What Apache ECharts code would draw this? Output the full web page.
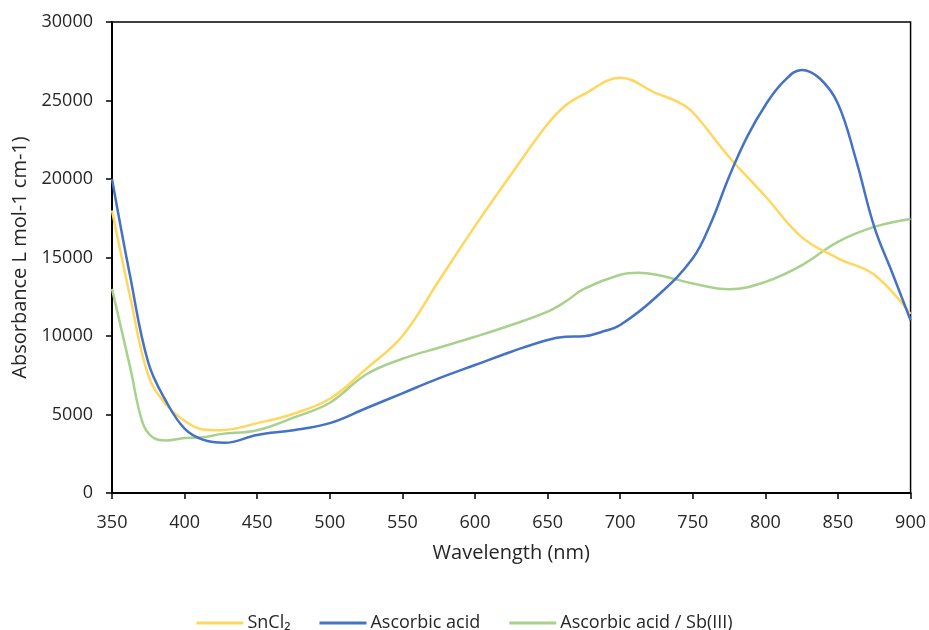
<!DOCTYPE html>
<html>
<head>
<meta charset="utf-8">
<script src="https://cdn.jsdelivr.net/npm/echarts@6/dist/echarts.min.js"></script>
<style>
  html, body { margin: 0; padding: 0; background: #fff; }
  #chart { width: 929px; height: 630px; }
</style>
</head>
<body>
<div id="chart"></div>
<script>
// Absorption spectra (wavelength in nm, absorbance in L mol-1 cm-1)
const snCl2Wavelength = [350, 362.5, 375, 387.5, 400, 412.5, 425, 450, 475, 500, 525, 550, 575, 600, 625, 650, 662.5, 675, 700, 725, 740, 750, 775, 800, 825, 850, 875, 900];
const snCl2Values     = [18000, 12500, 7500, 5600, 4600, 4050, 4000, 4450, 5050, 6000, 7900, 10000, 13500, 17000, 20300, 23500, 24700, 25400, 26450, 25450, 24900, 24250, 21400, 18900, 16300, 14950, 13900, 11400];

const ascorbicWavelength = [350, 362.5, 375, 387.5, 400, 412.5, 427.5, 450, 475, 500, 525, 550, 575, 600, 625, 650, 662.5, 675, 687.5, 700, 725, 750, 762.5, 775, 787.5, 800, 812.5, 825, 837.5, 850, 862.5, 875, 887.5, 900];
const ascorbicValues     = [20000, 13800, 8300, 5800, 4100, 3400, 3200, 3700, 4000, 4450, 5400, 6350, 7300, 8150, 9000, 9750, 9950, 9980, 10270, 10700, 12500, 14950, 17200, 20150, 22700, 24700, 26200, 26950, 26400, 24800, 21200, 16950, 14000, 11000];

const sbWavelength = [350, 362.5, 371, 378, 387.5, 400, 412.5, 425, 450, 475, 500, 525, 550, 575, 600, 625, 650, 662.5, 675, 700, 712.5, 725, 750, 775, 800, 825, 850, 875, 900];
const sbValues     = [13000, 8000, 4500, 3550, 3350, 3500, 3550, 3750, 4000, 4800, 5750, 7550, 8550, 9250, 9950, 10700, 11550, 12200, 13000, 13900, 14030, 13900, 13350, 12980, 13450, 14500, 16000, 16950, 17450];

const seriesNames = ['SnCl₂', 'Ascorbic acid', 'Ascorbic acid / Sb(III)'];
const xTicks = { min: 350, max: 900, interval: 50 };
const yTicks = { min: 0, max: 30000, interval: 5000 };

const pairs = (xs, ys) => xs.map((x, i) => [x, ys[i]]);
const font = '"Open Sans", "Noto Sans", sans-serif';
const textColor = '#262626';

const chart = echarts.init(document.getElementById('chart'), null, { renderer: 'canvas' });
chart.setOption({
  animation: false,
  backgroundColor: '#ffffff',
  grid: {
    left: 112, right: 17, top: 22, bottom: 137,
    show: true, borderColor: '#000', borderWidth: 1.5, containLabel: false
  },
  legend: {
    top: 609,
    left: 'center',
    itemWidth: 47,
    itemHeight: 3,
    itemGap: 29,
    icon: 'rect',
    textStyle: { fontFamily: font, fontSize: 18, color: textColor, padding: [0, 0, 0, -1] },
    data: seriesNames
  },
  xAxis: {
    type: 'value',
    min: xTicks.min, max: xTicks.max, interval: xTicks.interval,
    name: 'Wavelength (nm)',
    nameLocation: 'middle',
    nameGap: 50,
    nameTextStyle: { fontFamily: font, fontSize: 20, color: textColor },
    axisLine: { show: true, onZero: false, lineStyle: { color: '#000', width: 2 } },
    axisTick: { show: true, inside: false, length: 6, lineStyle: { color: '#000', width: 1.5 } },
    axisLabel: { fontFamily: font, fontSize: 18, color: textColor, margin: 21 },
    splitLine: { show: false }
  },
  yAxis: {
    type: 'value',
    min: yTicks.min, max: yTicks.max, interval: yTicks.interval,
    name: 'Absorbance L mol-1 cm-1)',
    nameLocation: 'middle',
    nameGap: 80,
    nameTextStyle: { fontFamily: font, fontSize: 20, color: textColor },
    axisLine: { show: true, lineStyle: { color: '#000', width: 2 } },
    axisTick: { show: true, inside: false, length: 6, lineStyle: { color: '#000', width: 1.5 } },
    axisLabel: { fontFamily: font, fontSize: 18, color: textColor, margin: 19, formatter: v => String(v) },
    splitLine: { show: false }
  },
  series: [
    {
      name: seriesNames[0], type: 'line', smooth: 0.4, showSymbol: false,
      data: pairs(snCl2Wavelength, snCl2Values),
      lineStyle: { color: '#FFD75E', width: 2.5 }, itemStyle: { color: '#FFD75E' }, z: 2
    },
    {
      name: seriesNames[1], type: 'line', smooth: 0.4, showSymbol: false,
      data: pairs(ascorbicWavelength, ascorbicValues),
      lineStyle: { color: '#4472C4', width: 2.5 }, itemStyle: { color: '#4472C4' }, z: 3
    },
    {
      name: seriesNames[2], type: 'line', smooth: 0.4, showSymbol: false,
      data: pairs(sbWavelength, sbValues),
      lineStyle: { color: '#A9D18E', width: 2.5 }, itemStyle: { color: '#A9D18E' }, z: 1
    }
  ]
});
</script>
</body>
</html>
